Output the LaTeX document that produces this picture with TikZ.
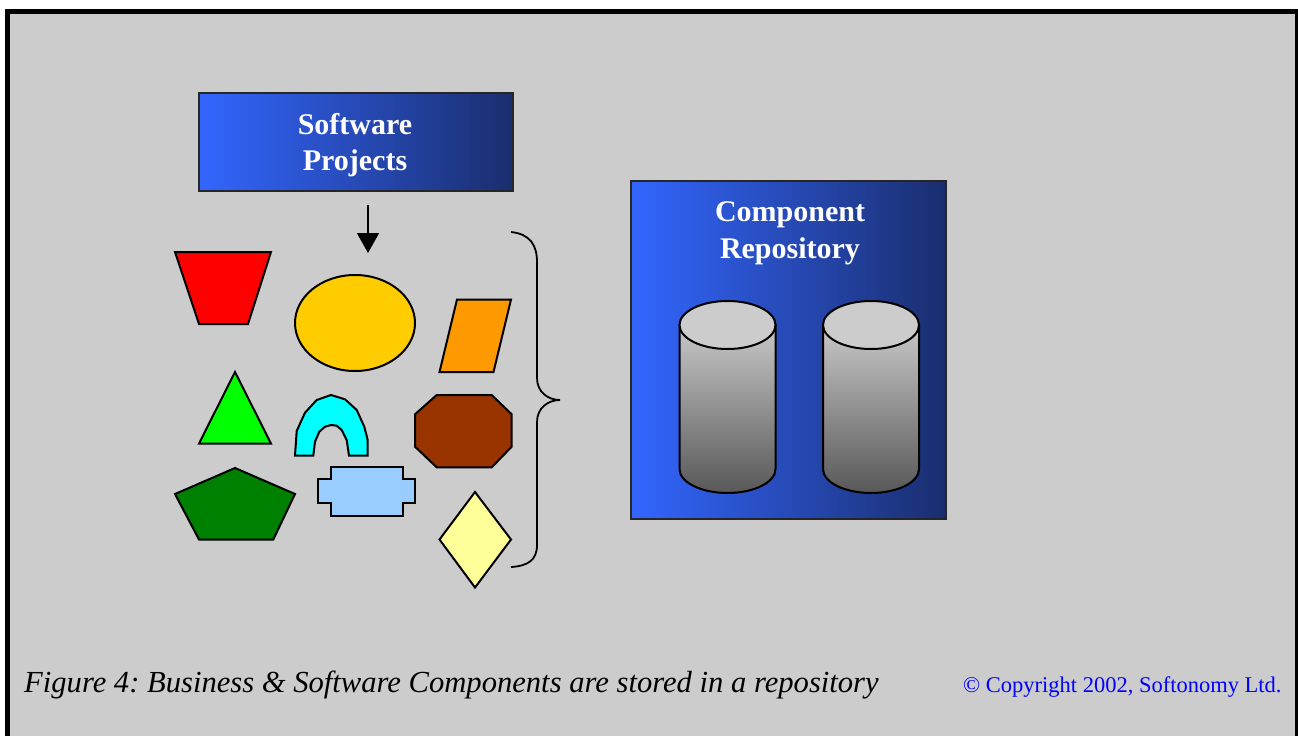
\documentclass[tikz,border=0pt]{standalone}
\usepackage{fontspec}
\setmainfont{Liberation Serif}
\usetikzlibrary{arrows.meta}

\definecolor{panelgray}{RGB}{204,204,204}
\definecolor{boxblue}{RGB}{51,102,255}
\definecolor{boxnavy}{RGB}{26,46,110}
\definecolor{cylbody}{RGB}{200,200,200}
\definecolor{cyldark}{RGB}{88,88,88}
\definecolor{cyltop}{RGB}{204,204,204}
\definecolor{shpred}{RGB}{255,0,0}
\definecolor{shpyellow}{RGB}{255,204,0}
\definecolor{shporange}{RGB}{255,153,0}
\definecolor{shpgreen}{RGB}{0,255,0}
\definecolor{shpcyan}{RGB}{0,255,255}
\definecolor{shpbrown}{RGB}{153,51,0}
\definecolor{shpdkgreen}{RGB}{0,128,0}
\definecolor{shpltblue}{RGB}{153,204,255}
\definecolor{shpltyellow}{RGB}{255,255,153}
\definecolor{copyblue}{RGB}{0,0,255}

\tikzset{
  bluebox/.style={rectangle, draw=black!85, line width=1.5pt,
    left color=boxblue, right color=boxnavy, inner sep=0pt},
  boxtitle/.style={text=white, font=\fontsize{30}{36.5}\selectfont\bfseries,
    align=center, inner sep=0pt},
  part/.style={draw=black, line width=2pt, line join=miter},
  cylside/.style={draw=black, line width=2pt, top color=cylbody, bottom color=cyldark},
  cyllid/.style={draw=black, line width=2pt, fill=cyltop},
  flowarrow/.style={line width=1.6pt, -{Triangle[width=22pt,length=20pt]}},
  bracepath/.style={draw=black, line width=1.8pt}
}

\begin{document}
\frenchspacing
\begin{tikzpicture}[x=1pt,y=-1pt]
\useasboundingbox (0,0) rectangle (1298,736);
% page frame
\fill[white] (0,0) rectangle (1298,736);
\fill[black] (5,9) rectangle (1298,736);
\fill[panelgray] (10,14) rectangle (1295,736);

% source box
\node[bluebox, minimum width=314pt, minimum height=98pt] (projects) at (356,142) {};
\node[boxtitle] (projtitle) at (355,145) {Software\\Projects};

% arrow into the parts
\coordinate (arrowfrom) at (368,205);
\coordinate (arrowto) at (368,253);
\draw[flowarrow] (arrowfrom) -- (arrowto);

% the parts
\draw[part, fill=shpred] (175,252) -- (271,252) -- (248,324) -- (199,324) -- cycle;
\draw[part, fill=shpyellow] (355,323) ellipse [x radius=60, y radius=48];
\draw[part, fill=shporange] (457,299.5) -- (511,299.5) -- (493.5,372) -- (439.5,372) -- cycle;
\draw[part, fill=shpgreen] (235,372) -- (271,443.5) -- (199,443.5) -- cycle;
\draw[part, fill=shpcyan] (295,455.7) -- (296.7,431) -- (305,412.7) -- (316.7,400) -- (331,395)
  -- (345,399.3) -- (356.7,410) -- (364.3,426.7) -- (367.7,440) -- (367.7,455.7)
  -- (349,455.7) -- (346.7,440) -- (341.7,430) -- (336.7,425.7) -- (331,425)
  -- (325,426.7) -- (319.3,431.7) -- (315,441.7) -- (313.3,455.7) -- cycle;
\draw[part, fill=shpbrown] (415,414.3) -- (436.7,395) -- (491.7,395) -- (511.7,414.3)
  -- (511.7,446.7) -- (491.7,467.3) -- (436.7,467.3) -- (415,446.7) -- cycle;
\draw[part, fill=shpdkgreen] (235,468) -- (295,494) -- (273.3,539.5) -- (199,539.5) -- (175,494) -- cycle;
\draw[part, fill=shpltblue] (331,467.3) -- (403.3,467.3) -- (403.3,479.3) -- (415,479.3)
  -- (415,503.3) -- (403.3,503.3) -- (403.3,515.7) -- (331,515.7) -- (331,503.3)
  -- (318.3,503.3) -- (318.3,479.3) -- (331,479.3) -- cycle;
\draw[part, fill=shpltyellow] (475,492) -- (511,539.5) -- (475,587.5) -- (439.5,539.5) -- cycle;

% curly brace grouping the parts
\draw[bracepath] (511,232) .. controls (530,234) and (537,245) .. (537,262) -- (537,378)
  .. controls (537,392) and (548,400) .. (560,400)
  .. controls (548,400) and (537,408) .. (537,422) -- (537,545)
  .. controls (537,560) and (528,566) .. (511,567);

% repository box
\node[bluebox, minimum width=315pt, minimum height=338pt] (repo) at (788.5,350) {};
\node[boxtitle] (repotitle) at (790,233.5) {Component\\Repository};

% storage cylinders
\foreach \cx/\nm in {727.5/dbleft, 871/dbright}{
  \draw[cylside] (\cx-48,325) -- (\cx-48,469)
    arc[start angle=180, end angle=0, x radius=48, y radius=24]
    -- (\cx+48,325) -- cycle;
  \draw[cyllid] (\cx,325) ellipse [x radius=48, y radius=24];
}

% caption and notice
\node[anchor=base west, inner sep=0pt] (caption) at (24,692)
  {\fontsize{30.6}{37}\selectfont\itshape Figure 4: Business \& Software Components are stored in a repository};
\node[anchor=base west, inner sep=0pt, text=copyblue] (notice) at (963,692)
  {\fontsize{22.5}{27}\selectfont © Copyright 2002, Softonomy Ltd.};
\end{tikzpicture}
\end{document}
